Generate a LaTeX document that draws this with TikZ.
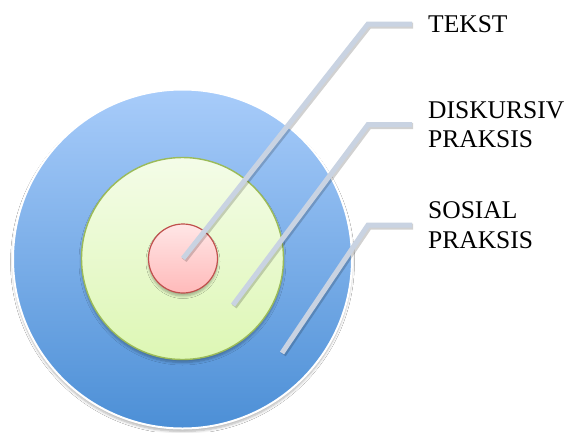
\documentclass[tikz,border=0pt]{standalone}
\usepackage{fontspec}
\setmainfont{Liberation Serif}
\usetikzlibrary{shadows.blur,calc}

\definecolor{outerTop}{RGB}{168,204,250}
\definecolor{outerBot}{RGB}{76,143,214}
\definecolor{midTop}{RGB}{244,252,232}
\definecolor{midBot}{RGB}{221,247,180}
\definecolor{midLine}{RGB}{155,187,89}
\definecolor{innerTop}{RGB}{255,230,230}
\definecolor{innerBot}{RGB}{255,186,186}
\definecolor{innerLine}{RGB}{192,80,77}
\definecolor{leaderCol}{RGB}{201,211,226}

\tikzset{
  x=1pt, y=-1pt,
  ring/.style={circle, inner sep=0pt, shading=axis, shading angle=0},
  ringshadow/.style={blur shadow={shadow xshift=0pt, shadow yshift=-3pt,
      shadow blur steps=6, shadow blur radius=2.5pt, shadow opacity=30}},
  label/.style={anchor=west, inner sep=0pt, align=left,
      font=\fontsize{25.5}{29.5}\selectfont},
  leader/.style={draw=leaderCol, line width=5pt, line join=miter},
  leadershadow/.style={draw=black, opacity=0.18, line width=6pt,
      line join=miter, transform canvas={shift={(1.2pt,-1.6pt)}}},
}

\begin{document}
\begin{tikzpicture}
  \useasboundingbox[fill=white] (0,0) rectangle (570,432);

  % concentric rings
  \node[ring, minimum size=339pt, top color=outerTop, bottom color=outerBot,
        draw=white, line width=2pt, ringshadow] (outer) at (182.5,259) {};
  \node[ring, minimum size=202pt, top color=midTop, bottom color=midBot,
        draw=midLine, line width=1.4pt, ringshadow] (mid) at (182.5,258.5) {};
  \node[ring, minimum size=69pt, top color=innerTop, bottom color=innerBot,
        draw=innerLine, line width=1.2pt, ringshadow] (inner) at (183,258.5) {};

  % labels
  \node[label] (tekst) at (428,24) {TEKST};
  \node[label] (disk)  at (428,124.5) {DISKURSIV\\PRAKSIS};
  \node[label] (sos)   at (428,225) {SOSIAL\\PRAKSIS};

  % leader line end points and bends
  \coordinate (pTekst) at (inner.center);
  \coordinate (pDisk)  at (233,305);
  \coordinate (pSos)   at (282,353);
  \coordinate (kTekst) at ($(tekst.west)+(-60,0)$);
  \coordinate (kDisk)  at ($(disk.west)+(-60,0)$);
  \coordinate (kSos)   at ($(sos.west)+(-60,0)$);
  \coordinate (eTekst) at ($(tekst.west)+(-16,0)$);
  \coordinate (eDisk)  at ($(disk.west)+(-16,0)$);
  \coordinate (eSos)   at ($(sos.west)+(-16,0)$);

  \foreach \p/\k/\e in {pTekst/kTekst/eTekst, pDisk/kDisk/eDisk, pSos/kSos/eSos}{
    \draw[leadershadow] (\p) -- (\k) -- (\e);
    \draw[leader] (\p) -- (\k) -- (\e);
  }
\end{tikzpicture}
\end{document}
